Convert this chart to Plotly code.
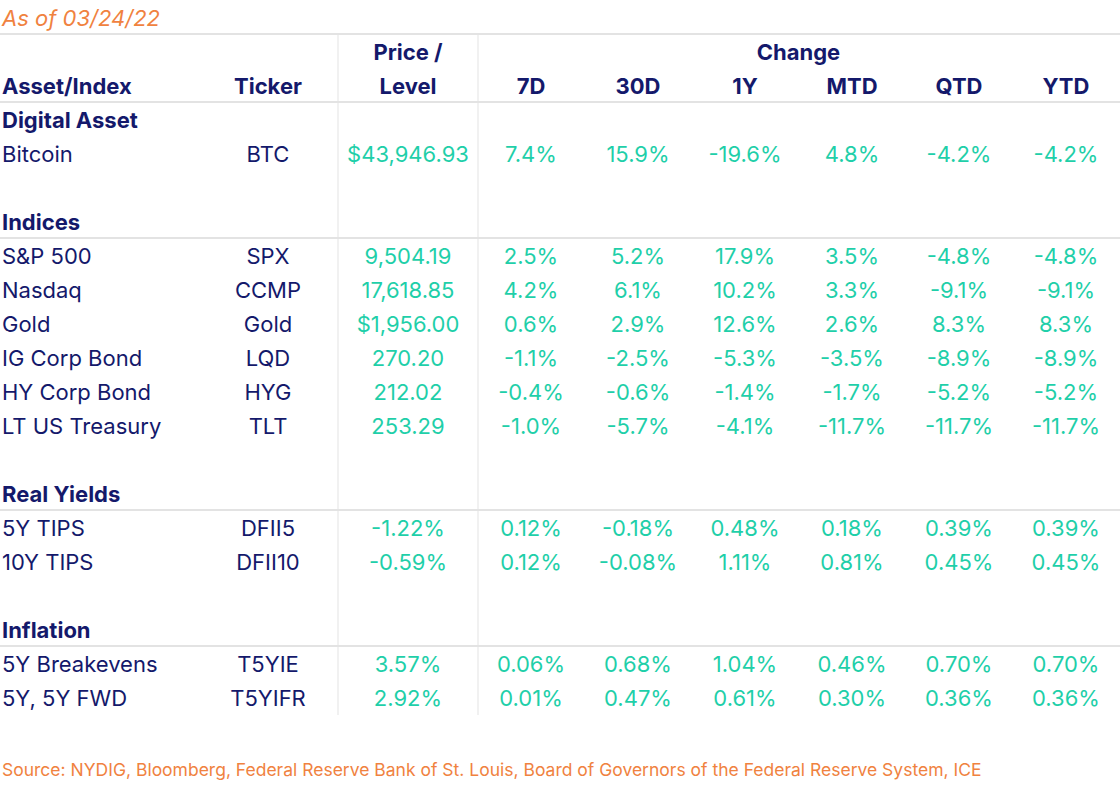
import plotly.graph_objects as go

# ---------------- data ----------------
groups = ["Digital Asset", "Indices", "Real Yields", "Inflation"]
assets = ["Bitcoin", "S&P 500", "Nasdaq", "Gold", "IG Corp Bond", "HY Corp Bond",
          "LT US Treasury", "5Y TIPS", "10Y TIPS", "5Y Breakevens", "5Y, 5Y FWD"]
asset_group = ["Digital Asset", "Indices", "Indices", "Indices", "Indices", "Indices",
               "Indices", "Real Yields", "Real Yields", "Inflation", "Inflation"]
tickers = ["BTC", "SPX", "CCMP", "Gold", "LQD", "HYG", "TLT",
           "DFII5", "DFII10", "T5YIE", "T5YIFR"]
price_level = ["$43,946.93", "9,504.19", "17,618.85", "$1,956.00", "270.20", "212.02",
               "253.29", "-1.22%", "-0.59%", "3.57%", "2.92%"]
chg_7d = ["7.4%", "2.5%", "4.2%", "0.6%", "-1.1%", "-0.4%", "-1.0%",
          "0.12%", "0.12%", "0.06%", "0.01%"]
chg_30d = ["15.9%", "5.2%", "6.1%", "2.9%", "-2.5%", "-0.6%", "-5.7%",
           "-0.18%", "-0.08%", "0.68%", "0.47%"]
chg_1y = ["-19.6%", "17.9%", "10.2%", "12.6%", "-5.3%", "-1.4%", "-4.1%",
          "0.48%", "1.11%", "1.04%", "0.61%"]
chg_mtd = ["4.8%", "3.5%", "3.3%", "2.6%", "-3.5%", "-1.7%", "-11.7%",
           "0.18%", "0.81%", "0.46%", "0.30%"]
chg_qtd = ["-4.2%", "-4.8%", "-9.1%", "8.3%", "-8.9%", "-5.2%", "-11.7%",
           "0.39%", "0.45%", "0.70%", "0.36%"]
chg_ytd = ["-4.2%", "-4.8%", "-9.1%", "8.3%", "-8.9%", "-5.2%", "-11.7%",
           "0.39%", "0.45%", "0.70%", "0.36%"]
change_labels = ["7D", "30D", "1Y", "MTD", "QTD", "YTD"]
as_of = "As of 03/24/22"
source = ("Source: NYDIG, Bloomberg, Federal Reserve Bank of St. Louis, Board of Governors "
          "of the Federal Reserve System, ICE")

# ---------------- style / layout ----------------
NAVY = "#14196b"
GREEN = "#1fcfa9"
ORANGE = "#f0823f"
LINE = "#e3e3e3"
FONT = "Inter"
FS = 22

# column centres (pixels) ; first column is left-aligned
X_ASSET = 2
X_TICKER = 268
X_PRICE = 408
X_CHANGE = [531, 638, 745, 852, 959, 1066]
X_VLINES = [338, 478]

PITCH = 34.0
TOP = 52.0
DY = 2.0 / PITCH  # small downward nudge for text baselines

# build row index for each line of the table
row_of_group = {}
row_of_asset = []
r = 2
for gi, g in enumerate(groups):
    row_of_group[g] = r
    r += 1
    for a, ag in zip(assets, asset_group):
        if ag == g:
            row_of_asset.append(r)
            r += 1
    r += 1  # blank spacer row
last_row = r - 2

fig = go.Figure()


def text_trace(xs, ys, texts, color, bold=False, pos="middle center", size=FS, italic=False):
    def fmt(t):
        if bold:
            t = f"<b>{t}</b>"
        if italic:
            t = f"<i>{t}</i>"
        return t
    fig.add_trace(go.Scatter(
        x=xs, y=[y + DY for y in ys], text=[fmt(t) for t in texts],
        mode="text", textposition=pos, hoverinfo="skip", showlegend=False,
        textfont=dict(family=FONT, size=size, color=color)))


# headers
text_trace([X_ASSET], [1], ["Asset/Index"], NAVY, True, "middle right")
text_trace([X_TICKER], [1], ["Ticker"], NAVY, True)
text_trace([X_PRICE, X_PRICE], [0, 1], ["Price /", "Level"], NAVY, True)
text_trace([(X_CHANGE[0] + X_CHANGE[-1]) / 2], [0], ["Change"], NAVY, True)
text_trace(X_CHANGE, [1] * len(X_CHANGE), change_labels, NAVY, True)

# group titles
text_trace([X_ASSET] * len(groups), [row_of_group[g] for g in groups], groups,
           NAVY, True, "middle right")

# body
text_trace([X_ASSET] * len(assets), row_of_asset, assets, NAVY, False, "middle right")
text_trace([X_TICKER] * len(tickers), row_of_asset, tickers, NAVY)
text_trace([X_PRICE] * len(price_level), row_of_asset, price_level, GREEN)
for xc, col in zip(X_CHANGE, [chg_7d, chg_30d, chg_1y, chg_mtd, chg_qtd, chg_ytd]):
    text_trace([xc] * len(col), row_of_asset, col, GREEN)

# title & source
text_trace([X_ASSET], [-1.0], [as_of], ORANGE, False, "middle right", 22, italic=True)
text_trace([X_ASSET], [last_row + 2.1], [source], ORANGE, False, "middle right", 17.5)

# rules
OFF = 0.53
hl_rows = [0, 2] + [row_of_group[g] + 1 for g in groups[1:]]
for hr in hl_rows:
    fig.add_shape(type="line", x0=0, x1=1120, y0=hr - OFF, y1=hr - OFF,
                  xref="x", yref="y", line=dict(color=LINE, width=2), layer="below")
for xv in X_VLINES:
    fig.add_shape(type="line", x0=xv, x1=xv, y0=-OFF, y1=last_row + 0.5,
                  xref="x", yref="y", line=dict(color=LINE, width=1), layer="below")

fig.update_layout(
    width=1120, height=792, margin=dict(l=0, r=0, t=0, b=0),
    paper_bgcolor="white", plot_bgcolor="white",
    xaxis=dict(range=[0, 1120], visible=False, fixedrange=True),
    yaxis=dict(range=[(792 - TOP) / PITCH, -TOP / PITCH], visible=False, fixedrange=True),
)

fig.write_html("out.html", config={"displayModeBar": False},
               post_script="document.body.style.margin='0';document.body.style.overflow='hidden';")
